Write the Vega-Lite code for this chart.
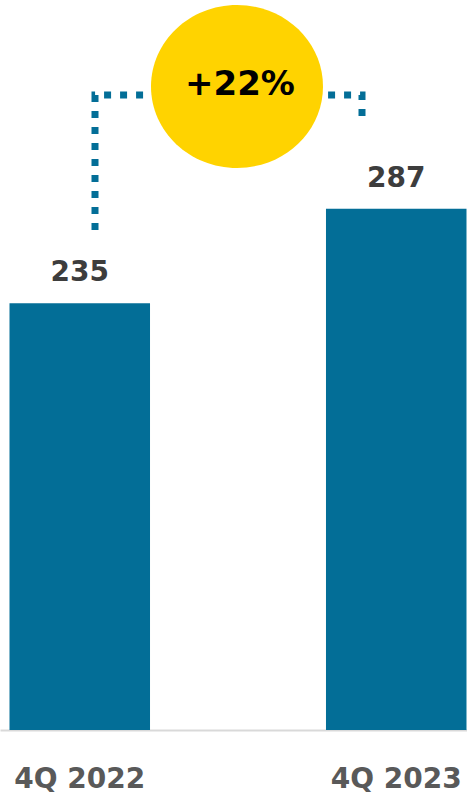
{
  "$schema": "https://vega.github.io/schema/vega-lite/v6.json",
  "width": 467,
  "height": 730,
  "padding": {"left": 0, "top": 0, "right": 0, "bottom": 63},
  "autosize": {"type": "none"},
  "background": "white",
  "config": {"view": {"stroke": null}},
  "datasets": {
    "bars": [
      {"quarter": "4Q 2022", "value": 235},
      {"quarter": "4Q 2023", "value": 287}
    ],
    "bracket": [
      {"i": 0, "xpos": 95, "yval": 275.4},
      {"i": 1, "xpos": 95, "yval": 349.7},
      {"i": 2, "xpos": 362, "yval": 349.7},
      {"i": 3, "xpos": 362, "yval": 337.5}
    ],
    "badge": [
      {"xpos": 237, "yval": 354.4, "tx": 240, "ty": 355.3, "label": "+22%"}
    ]
  },
  "layer": [
    {
      "data": {"name": "bars"},
      "encoding": {
        "x": {
          "field": "quarter",
          "type": "nominal",
          "sort": null,
          "scale": {"paddingInner": 0.556, "paddingOuter": 0.0158, "align": 0.95},
          "axis": {
            "title": null,
            "ticks": false,
            "domainColor": "#d9d9d9",
            "domainWidth": 2,
            "labelAngle": 0,
            "labelFont": "DejaVu Sans",
            "labelFontWeight": "bold",
            "labelFontSize": 28,
            "labelColor": "#595959",
            "labelPadding": 35,
            "labelBaseline": "top"
          }
        },
        "y": {
          "field": "value",
          "type": "quantitative",
          "scale": {"domain": [0, 402], "nice": false},
          "axis": null
        }
      },
      "layer": [
        {"mark": {"type": "bar", "color": "#036e97"}},
        {
          "mark": {
            "type": "text",
            "font": "DejaVu Sans",
            "fontWeight": "bold",
            "fontSize": 28,
            "color": "#3d3d3d",
            "baseline": "alphabetic",
            "dy": -22
          },
          "encoding": {"text": {"field": "value", "type": "quantitative"}}
        }
      ]
    },
    {
      "data": {"name": "bracket"},
      "mark": {
        "type": "line",
        "color": "#036e97",
        "strokeWidth": 7,
        "strokeDash": [7, 9],
        "strokeCap": "butt",
        "strokeJoin": "miter"
      },
      "encoding": {
        "x": {"field": "xpos", "type": "quantitative", "scale": {"domain": [0, 467], "nice": false, "zero": false}, "axis": null},
        "y": {"field": "yval", "type": "quantitative", "scale": {"domain": [0, 402], "nice": false}, "axis": null},
        "order": {"field": "i"}
      }
    },
    {
      "data": {"name": "badge"},
      "mark": {
        "type": "point",
        "filled": true,
        "opacity": 1,
        "color": "#ffd300",
        "shape": "M -1 0 A 1 0.948 0 1 0 1 0 A 1 0.948 0 1 0 -1 0 Z",
        "size": 29584
      },
      "encoding": {
        "x": {"field": "xpos", "type": "quantitative", "scale": {"domain": [0, 467], "nice": false, "zero": false}, "axis": null},
        "y": {"field": "yval", "type": "quantitative", "scale": {"domain": [0, 402], "nice": false}, "axis": null}
      }
    },
    {
      "data": {"name": "badge"},
      "mark": {
        "type": "text",
        "font": "DejaVu Sans",
        "fontWeight": "bold",
        "fontSize": 34,
        "color": "#000000",
        "baseline": "middle",
        "align": "center"
      },
      "encoding": {
        "x": {"field": "tx", "type": "quantitative", "scale": {"domain": [0, 467], "nice": false, "zero": false}, "axis": null},
        "y": {"field": "ty", "type": "quantitative", "scale": {"domain": [0, 402], "nice": false}, "axis": null},
        "text": {"field": "label"}
      }
    }
  ],
  "resolve": {"scale": {"x": "independent"}}
}
